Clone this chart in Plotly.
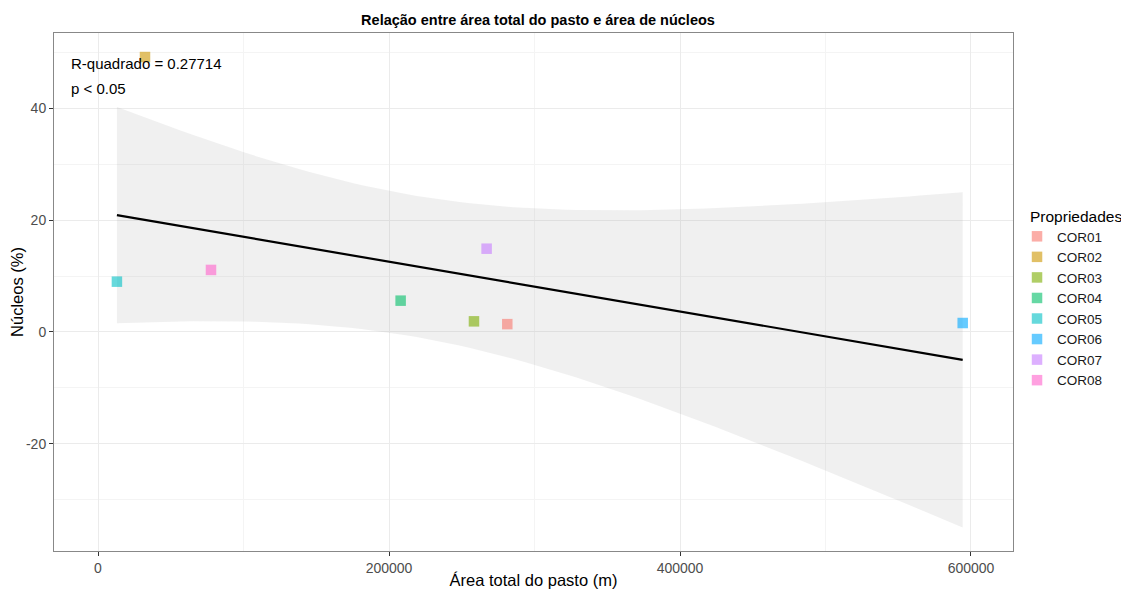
import numpy as np
import plotly.graph_objects as go

# Data
propriedades = ["COR01", "COR02", "COR03", "COR04", "COR05", "COR06", "COR07", "COR08"]
area_total = [281300, 32300, 258400, 208000, 13000, 594300, 267100, 77660]
nucleos = [1.4, 49.2, 1.9, 5.6, 9.0, 1.6, 14.9, 11.1]
cores = ["#F8766D", "#CD9600", "#7CAE00", "#00BE67", "#00BFC4", "#00A9FF", "#C77CFF", "#FF61CC"]

x_tickvals = [0, 200000, 400000, 600000]
x_ticktext = ["0", "200000", "400000", "600000"]
y_tickvals = [-20, 0, 20, 40]
y_ticktext = ["-20", "0", "20", "40"]

# Linear fit with 95% confidence band (like geom_smooth(method="lm"))
x = np.array(area_total, dtype=float)
y = np.array(nucleos, dtype=float)
n = len(x)
slope, intercept = np.polyfit(x, y, 1)
resid = y - (slope * x + intercept)
s = np.sqrt(np.sum(resid ** 2) / (n - 2))
t_crit = 2.446912  # t(0.975, df=6)
xg = np.linspace(x.min(), x.max(), 80)
yg = slope * xg + intercept
se = s * np.sqrt(1.0 / n + (xg - x.mean()) ** 2 / np.sum((x - x.mean()) ** 2))
upper = yg + t_crit * se
lower = yg - t_crit * se

fig = go.Figure()
fig.add_trace(go.Scatter(x=xg, y=lower, mode="lines", line=dict(width=0, color="rgba(0,0,0,0)"),
                         showlegend=False, hoverinfo="skip"))
fig.add_trace(go.Scatter(x=xg, y=upper, mode="lines", line=dict(width=0, color="rgba(0,0,0,0)"),
                         fill="tonexty", fillcolor="rgba(153,153,153,0.15)",
                         showlegend=False, hoverinfo="skip"))

for p, xv, yv, c in zip(propriedades, area_total, nucleos, cores):
    fig.add_trace(go.Scatter(x=[xv], y=[yv], mode="markers", name=p,
                             marker=dict(symbol="square", size=10.5, color=c, opacity=0.6)))

fig.add_trace(go.Scatter(x=xg, y=yg, mode="lines", line=dict(color="black", width=2.2),
                         showlegend=False, hoverinfo="skip"))

font_family = "Liberation Sans, Arial, sans-serif"

# The page body has an 8px margin, so the figure is sized/offset accordingly
W, H = 1121, 581
fig.update_layout(
    width=W, height=H,
    margin=dict(l=46, r=116, t=25, b=38, autoexpand=False),
    paper_bgcolor="white", plot_bgcolor="white",
    font=dict(family=font_family, color="black"),
    title=dict(text="<b>Relação entre área total do pasto e área de núcleos</b>",
               x=(538 - 8) / W, xanchor="center", y=1 - (20 - 8) / H, yanchor="middle",
               font=dict(size=14.5, color="black")),
    legend=dict(x=1.0042, xanchor="left", y=0.637, yanchor="top",
                font=dict(size=13.5, color="#1a1a1a"), tracegroupgap=0, itemwidth=30,
                traceorder="normal", bgcolor="rgba(0,0,0,0)"),
    showlegend=True,
)

fig.update_xaxes(
    range=[-30240, 628870], tickvals=x_tickvals, ticktext=x_ticktext,
    showgrid=True, gridcolor="#EBEBEB", gridwidth=1,
    minor=dict(dtick=100000, tick0=0, showgrid=True, gridcolor="#F4F4F4", gridwidth=0.6),
    zeroline=False, showline=True, linecolor="#888888", linewidth=1, mirror=True,
    ticks="outside", ticklen=4, tickcolor="#333333",
    tickfont=dict(size=14, color="#4D4D4D"), automargin=False,
    title=dict(text="Área total do pasto (m)", font=dict(size=16.5), standoff=2),
)
fig.update_yaxes(
    range=[-39.2, 53.5], tickvals=y_tickvals, ticktext=y_ticktext,
    showgrid=True, gridcolor="#EBEBEB", gridwidth=1,
    minor=dict(dtick=10, tick0=0, showgrid=True, gridcolor="#F4F4F4", gridwidth=0.6),
    zeroline=False, showline=True, linecolor="#888888", linewidth=1, mirror=True,
    ticks="outside", ticklen=4, tickcolor="#333333",
    tickfont=dict(size=14, color="#4D4D4D"), automargin=False,
    title=dict(text="Núcleos (%)", font=dict(size=16.5), standoff=4),
)

fig.add_annotation(text="R-quadrado = 0.27714", xref="paper", yref="paper",
                   x=(69 - 54) / 959, y=(551 - 63) / 518, xanchor="left", yanchor="middle",
                   showarrow=False, font=dict(size=15, color="black"))
fig.add_annotation(text="p < 0.05", xref="paper", yref="paper",
                   x=(69 - 54) / 959, y=(551 - 88) / 518, xanchor="left", yanchor="middle",
                   showarrow=False, font=dict(size=15, color="black"))
fig.add_annotation(text="Propriedades", xref="paper", yref="paper",
                   x=(1028 - 54) / 959, y=(551 - 217) / 518, xanchor="left", yanchor="middle",
                   showarrow=False, font=dict(size=15.5, color="black"))

fig.write_html("out.html")
